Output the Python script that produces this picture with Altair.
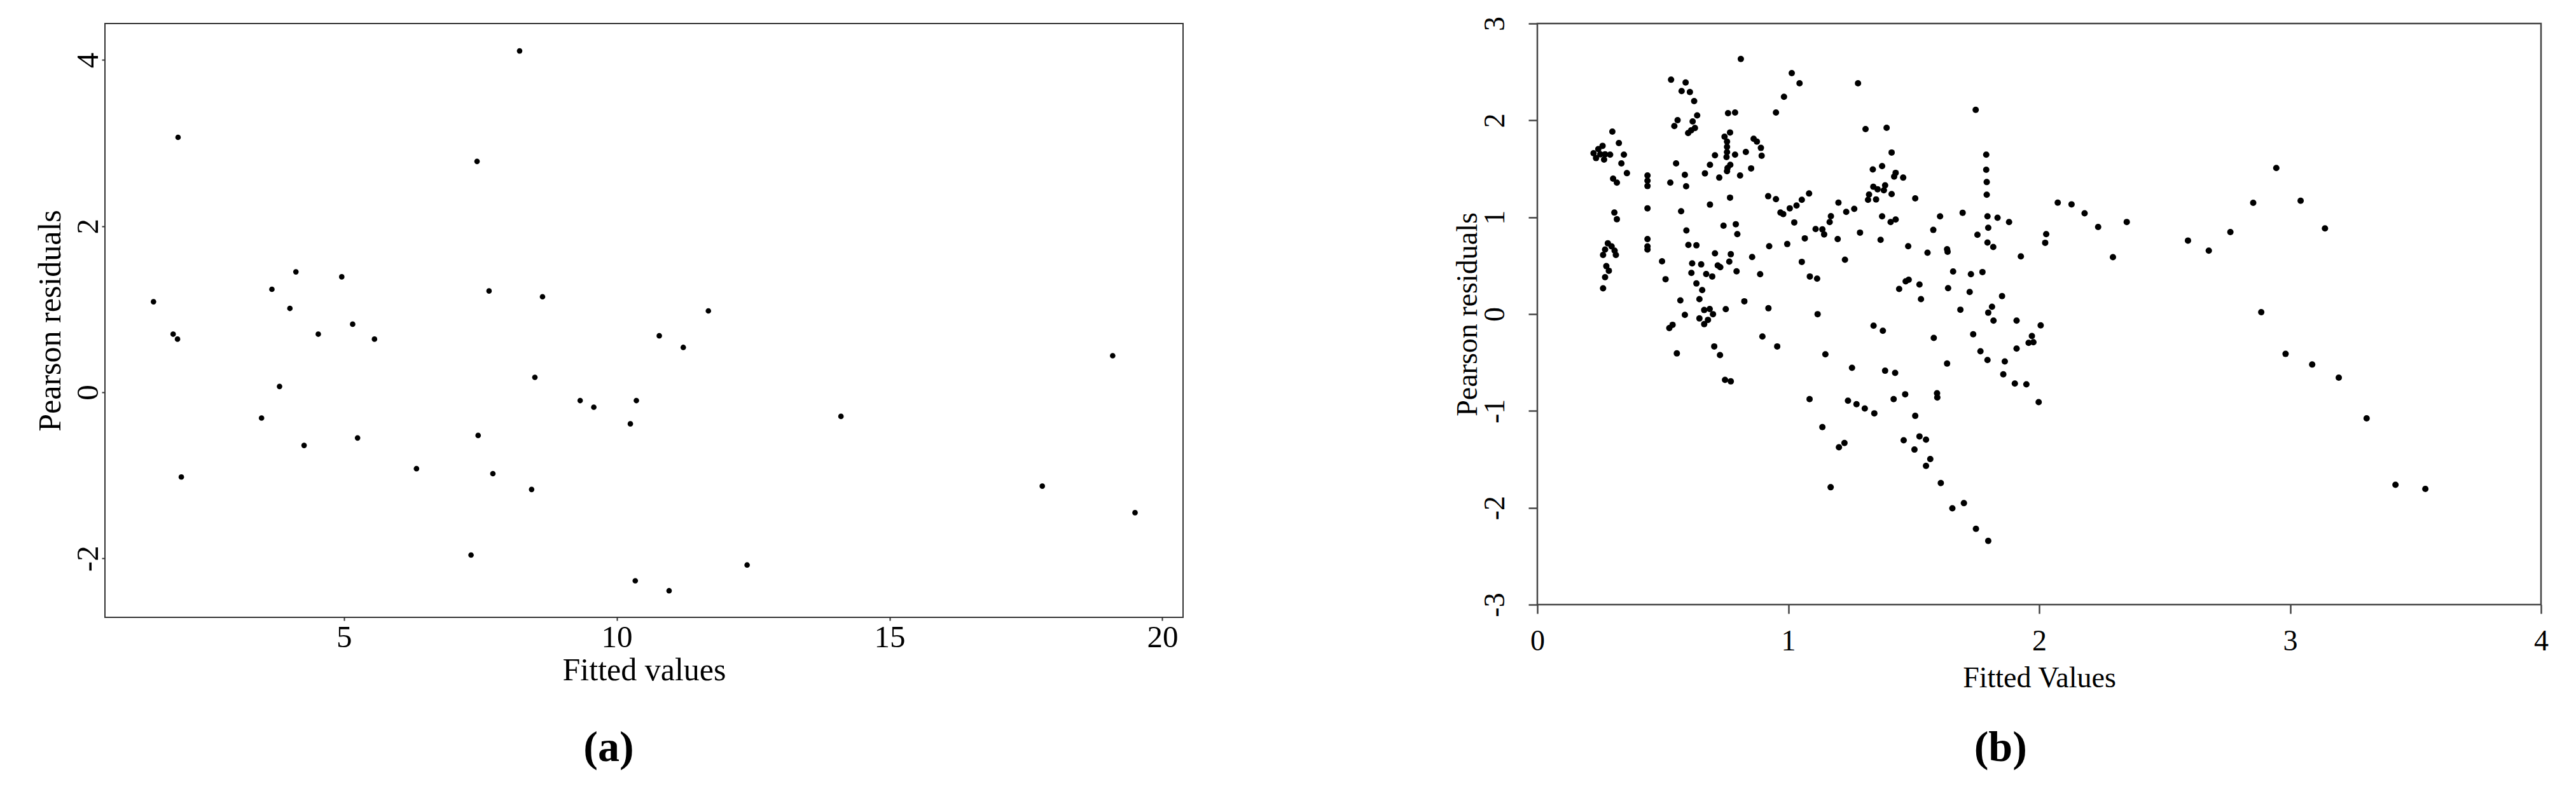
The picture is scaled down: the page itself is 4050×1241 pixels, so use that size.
import altair as alt
import pandas as pd

# ---------------- Panel (a) data ----------------
a_x = [1.51, 1.87, 1.95, 1.96, 2.02, 3.49, 3.68, 3.82, 4.01, 4.12,
       4.27, 4.53, 4.96, 5.16, 5.25, 5.56, 6.33, 7.33, 7.44, 7.46,
       7.66, 7.73, 8.22, 8.44, 8.50, 8.64, 9.33, 9.58, 10.25, 10.36,
       10.34, 10.78, 10.96, 11.22, 11.68, 12.39, 14.11, 17.80, 19.09, 19.50]
a_y = [1.09, 0.70, 0.64, 3.07, -1.02, -0.31, 1.24, 0.07, 1.01, 1.45,
       -0.64, 0.70, 1.39, 0.82, -0.55, 0.64, -0.92, -1.96, 2.78, -0.52,
       1.22, -0.98, 4.11, -1.17, 0.18, 1.15, -0.10, -0.18, -0.38, -0.10,
       -2.27, 0.68, -2.39, 0.54, 0.98, -2.08, -0.29, -1.13, 0.44, -1.45]

# ---------------- Panel (b) data ----------------
b_x = [
    0.811, 1.014, 1.045, 0.983, 0.951, 0.533, 0.591, 0.575, 0.608, 0.625,
    0.760, 0.788, 0.637, 0.559, 0.546, 0.619, 0.628, 0.613, 0.601, 0.299,
    0.325, 0.260, 0.243, 0.224, 0.234, 0.266, 0.290, 0.270, 0.251, 0.345,
    0.335, 0.357, 0.302, 0.317, 0.439, 0.439, 0.439, 0.553, 0.588, 0.530,
    0.593, 0.768, 0.746, 0.756, 0.756, 0.756, 0.754, 0.769, 0.758, 0.756,
    0.788, 0.708, 0.831, 0.862, 0.875, 0.891, 0.894, 0.852, 0.688, 0.668,
    0.725, 0.808, 0.768, 0.688, 0.439, 0.573, 0.307, 0.317, 0.920, 0.951,
    1.083, 1.054, 1.033, 1.006, 0.969, 0.980, 1.024,
    1.278, 1.747, 1.308, 1.392, 1.412, 1.337, 1.374, 1.428, 1.422, 1.458,
    1.339, 1.356, 1.381, 1.386, 1.322, 1.318, 1.350, 1.412, 1.506, 1.200,
    1.231, 1.263, 1.170, 1.165, 1.374, 1.428, 1.408, 1.605, 1.695, 1.789,
    1.789, 1.791, 1.791, 1.794, 1.834, 1.880, 2.074,
    0.742, 0.791, 0.797, 0.594, 1.066, 0.996, 0.924, 0.439, 0.439, 0.439,
    0.281, 0.296, 0.308, 0.313, 0.270, 0.262, 0.275, 0.285, 0.270, 0.262,
    0.497, 0.511, 0.602, 0.634, 0.708, 0.771, 0.765, 0.856, 0.617, 0.653,
    0.614, 0.673, 0.697, 0.719, 0.729, 0.794, 0.888, 1.054, 1.086, 0.634,
    0.657, 0.570, 0.646, 0.825, 0.921, 0.751, 0.665, 0.687, 0.700, 0.646,
    0.680, 0.665, 0.588, 0.539, 0.526, 0.897, 0.956, 0.705, 0.728, 0.556,
    0.748, 0.771, 1.085,
    1.109, 1.136, 1.143, 1.197, 1.286, 1.368, 1.578, 1.478, 1.555, 1.633,
    1.635, 1.797, 1.754, 1.794, 1.817, 2.028, 2.024, 1.927, 1.226, 1.115,
    1.657, 1.728, 1.774, 1.468, 1.480, 1.523, 1.442, 1.637, 1.723, 1.529,
    1.852, 1.117, 1.686, 1.812, 1.797, 1.818, 1.910, 2.006, 1.340, 1.377,
    1.580, 1.737, 1.971, 1.958, 1.977, 1.910, 1.148, 1.766, 1.794, 1.863,
    1.633, 1.254, 1.386, 1.426, 1.857, 1.903, 1.949, 1.998, 1.466, 1.420,
    1.593, 1.594, 1.238, 1.272, 1.305, 1.343, 1.506,
    1.136, 1.224, 1.202, 1.169, 1.460, 1.523, 1.549, 1.503, 1.566, 1.549,
    1.608, 1.700, 1.654, 1.748, 1.797,
    2.129, 2.181, 2.235, 2.349, 2.294, 2.593, 2.676, 2.762, 2.853, 2.945,
    3.042, 3.139, 2.885, 2.982, 3.088, 3.194, 3.305, 3.420, 3.539,
]
b_y = [
    2.634, 2.488, 2.383, 2.243, 2.081, 2.420, 2.391, 2.302, 2.293, 2.199,
    2.074, 2.081, 2.052, 2.002, 1.941, 1.989, 1.921, 1.897, 1.869, 1.884,
    1.766, 1.737, 1.703, 1.661, 1.611, 1.595, 1.646, 1.650, 1.650, 1.646,
    1.556, 1.455, 1.398, 1.357, 1.431, 1.377, 1.322, 1.556, 1.438, 1.357,
    1.320, 1.875, 1.832, 1.781, 1.727, 1.672, 1.622, 1.541, 1.508, 1.475,
    1.646, 1.639, 1.674, 1.810, 1.781, 1.716, 1.635, 1.504, 1.541, 1.453,
    1.409, 1.431, 1.202, 1.130, 1.092, 1.062, 1.048, 0.979, 1.217, 1.186,
    1.245, 1.180, 1.121, 1.092, 1.048, 1.033, 0.946,
    2.383, 2.109, 1.910, 1.923, 1.668, 1.493, 1.528, 1.458, 1.420, 1.409,
    1.315, 1.289, 1.278, 1.329, 1.234, 1.180, 1.184, 1.239, 1.195, 1.151,
    1.055, 1.086, 1.011, 0.950, 1.009, 0.976, 0.950, 1.009, 1.046, 1.646,
    1.490, 1.363, 1.232, 1.009, 0.994, 0.950, 1.151,
    0.913, 0.928, 0.825, 0.863, 0.782, 0.723, 0.701, 0.775, 0.699, 0.666,
    0.731, 0.699, 0.655, 0.611, 0.666, 0.611, 0.495, 0.447, 0.381, 0.266,
    0.545, 0.360, 0.714, 0.710, 0.627, 0.618, 0.541, 0.589, 0.524, 0.513,
    0.425, 0.414, 0.388, 0.502, 0.484, 0.441, 0.412, 0.539, 0.388, 0.316,
    0.248, 0.141, 0.154, 0.132, 0.060, 0.051, 0.042, 0.053, -0.001, -0.045,
    -0.060, -0.104, -0.008, -0.111, -0.144, -0.231, -0.334, -0.334, -0.423, -0.406,
    -0.679, -0.695, -0.878,
    0.878, 0.874, 0.823, 0.775, 0.841, 0.766, 0.869, 0.701, 0.633, 0.670,
    0.644, 0.891, 0.819, 0.738, 0.692, 0.825, 0.736, 0.596, 0.561, 0.366,
    0.440, 0.412, 0.434, 0.338, 0.355, 0.305, 0.259, 0.268, 0.228, 0.154,
    0.185, -0.001, 0.045, 0.075, 0.014, -0.067, -0.067, -0.117, -0.120, -0.172,
    -0.246, -0.209, -0.227, -0.297, -0.290, -0.356, -0.415, -0.384, -0.474, -0.489,
    -0.511, -0.555, -0.585, -0.607, -0.622, -0.717, -0.725, -0.909, -0.828, -0.878,
    -0.817, -0.861, -0.894, -0.931, -0.975, -1.025, -1.051,
    -1.167, -1.331, -1.375, -1.788, -1.303, -1.263, -1.296, -1.399, -1.497, -1.567,
    -1.745, -1.952, -2.005, -2.217, -2.342,
    1.133, 1.040, 0.899, 0.951, 0.587, 0.759, 0.655, 0.847, 1.149, 1.508,
    1.170, 0.884, 0.020, -0.411, -0.521, -0.656, -1.077, -1.763, -1.805,
]

a_xticks = [5, 10, 15, 20]
a_yticks = [-2, 0, 2, 4]
b_xticks = [0, 1, 2, 3, 4]
b_yticks = [-3, -2, -1, 0, 1, 2, 3]

FONT = "Liberation Serif"
PLAIN = "'' + datum.value"   # hyphen-minus like the original

da = pd.DataFrame({"x": a_x, "y": a_y})
db = pd.DataFrame({"x": b_x, "y": b_y})

A_W, A_H = 1695, 934
B_W, B_H = 1578, 914

# ---------- Panel (a) ----------
pts_a = alt.Chart(da).mark_circle(size=75, color="black", opacity=1).encode(
    x=alt.X("x:Q",
            scale=alt.Scale(domain=[0.62, 20.38], nice=False, zero=False),
            axis=alt.Axis(values=a_xticks, title="Fitted values", domain=False, grid=False,
                          tickSize=5, tickWidth=2, tickColor="#333333",
                          labelFont=FONT, labelFontSize=49, labelColor="black",
                          labelExpr=PLAIN,
                          labelBaseline="middle", labelPadding=26,
                          labelFlush=False, labelOverlap=False,
                          titleFont=FONT, titleFontSize=50, titleFontWeight="normal",
                          titleColor="black", titleBaseline="middle",
                          titleX=A_W / 2, titleY=83)),
    y=alt.Y("y:Q",
            scale=alt.Scale(domain=[-2.71, 4.44], nice=False, zero=False),
            axis=alt.Axis(values=a_yticks, title="Pearson residuals", domain=False, grid=False,
                          tickSize=5, tickWidth=2, tickColor="#333333",
                          labelFont=FONT, labelFontSize=49, labelColor="black",
                          labelExpr=PLAIN,
                          labelAngle=270, labelAlign="center", labelBaseline="middle",
                          labelPadding=22, labelFlush=False, labelOverlap=False,
                          titleFont=FONT, titleFontSize=50, titleFontWeight="normal",
                          titleColor="black", titleAngle=270, titleBaseline="middle",
                          titleX=-86, titleY=A_H / 2)),
)
spacer = alt.Chart(pd.DataFrame({"s": [0]})).mark_point(opacity=0, size=1).encode(
    x=alt.value(0), y=alt.value(-19.5)
)
panel_a = alt.layer(pts_a, spacer).properties(
    width=A_W, height=A_H,
    view=alt.ViewBackground(stroke="#333333", strokeWidth=2),
    title=alt.TitleParams("(a)", orient="bottom", anchor="middle", frame="bounds",
                          font=FONT, fontSize=68, fontWeight="bold", color="black",
                          offset=64),
)

# ---------- Panel (b) ----------
panel_b = alt.Chart(db).mark_circle(size=100, color="black", opacity=1).encode(
    x=alt.X("x:Q",
            scale=alt.Scale(domain=[0, 4], nice=False, zero=False),
            axis=alt.Axis(values=b_xticks, title="Fitted Values", domain=False, grid=False,
                          tickSize=14, tickWidth=2.5, tickColor="#444444",
                          labelFont=FONT, labelFontSize=46, labelColor="black",
                          labelExpr=PLAIN,
                          labelBaseline="middle", labelPadding=43,
                          labelFlush=False, labelOverlap=False,
                          titleFont=FONT, titleFontSize=46, titleFontWeight="normal",
                          titleColor="black", titleBaseline="middle",
                          titleX=B_W / 2, titleY=115)),
    y=alt.Y("y:Q",
            scale=alt.Scale(domain=[-3, 3], nice=False, zero=False),
            axis=alt.Axis(values=b_yticks, title="Pearson residuals", domain=False, grid=False,
                          tickSize=14, tickWidth=2.5, tickColor="#444444",
                          labelFont=FONT, labelFontSize=46, labelColor="black",
                          labelExpr=PLAIN,
                          labelAngle=270, labelAlign="center", labelBaseline="middle",
                          labelPadding=53, labelFlush=False, labelOverlap=False,
                          titleFont=FONT, titleFontSize=46, titleFontWeight="normal",
                          titleColor="black", titleAngle=270, titleBaseline="middle",
                          titleX=-110, titleY=B_H / 2)),
).properties(
    width=B_W, height=B_H,
    view=alt.ViewBackground(stroke="#444444", strokeWidth=2.5),
    title=alt.TitleParams("(b)", orient="bottom", anchor="middle", frame="bounds",
                          font=FONT, fontSize=68, fontWeight="bold", color="black",
                          offset=54),
)

chart = alt.hconcat(panel_a, panel_b, spacing=421).properties(
    padding={"left": 45, "top": 8, "right": 5, "bottom": 5},
    background="white",
)

chart.save("out.html", embed_options={"renderer": "svg", "actions": False})
